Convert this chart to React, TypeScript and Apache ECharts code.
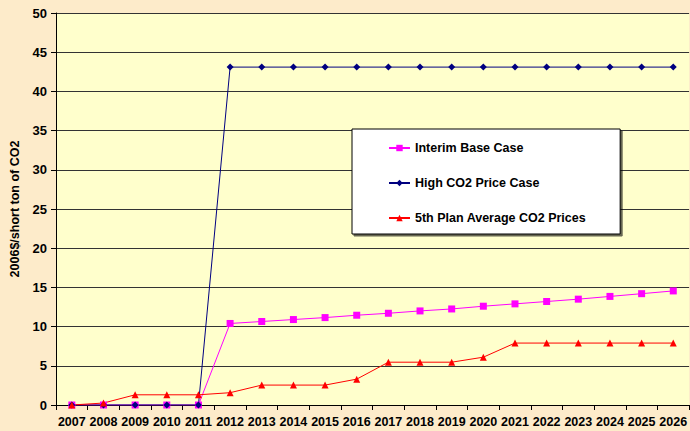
import React, { useEffect, useRef } from "react";
import * as echarts from "echarts";

const years = ["2007","2008","2009","2010","2011","2012","2013","2014","2015","2016","2017","2018","2019","2020","2021","2022","2023","2024","2025","2026"];
const interimBase = [0,0,0,0,0,10.4,10.65,10.9,11.15,11.45,11.7,12.0,12.25,12.6,12.9,13.2,13.5,13.85,14.2,14.55];
const highCO2 = [0,0,0,0,0,43.1,43.1,43.1,43.1,43.1,43.1,43.1,43.1,43.1,43.1,43.1,43.1,43.1,43.1,43.1];
const fifthPlan = [0,0.25,1.3,1.3,1.3,1.57,2.54,2.54,2.54,3.3,5.46,5.46,5.46,6.1,7.9,7.9,7.9,7.9,7.9,7.9];

const seriesNames = ["Interim Base Case", "High CO2 Price Case", "5th Plan Average CO2 Prices"];

export default function App() {
  const ref = useRef<HTMLDivElement>(null);
  useEffect(() => {
    document.body.style.margin = "0";
    const chart = echarts.init(ref.current!, null, { renderer: "svg" });
    const font = "Arial, 'Liberation Sans', sans-serif";
    chart.setOption({
      animation: false,
      backgroundColor: "#FDEBCA",
      textStyle: { fontFamily: font },
      grid: {
        left: 56,
        right: -6,
        top: 13,
        bottom: 26,
        show: true,
        backgroundColor: "#FFFFCC",
        borderWidth: 0,
      },
      legend: {
        orient: "vertical",
        left: 352,
        top: 129,
        data: seriesNames,
        backgroundColor: "#FFFFFF",
        borderColor: "#000000",
        borderWidth: 1,
        shadowColor: "rgba(0,0,0,0.6)",
        shadowOffsetX: 2,
        shadowOffsetY: 2,
        shadowBlur: 0,
        padding: [12, 34, 9, 36],
        itemGap: 21,
        itemWidth: 21,
        itemHeight: 8,
        textStyle: { fontFamily: font, fontWeight: "bold", fontSize: 12.5, lineHeight: 14, color: "#000" },
      },
      xAxis: {
        type: "category",
        data: years,
        boundaryGap: true,
        axisLine: { lineStyle: { color: "#000", width: 1 } },
        axisTick: { show: true, length: 5, inside: false, lineStyle: { color: "#000" } },
        axisLabel: { color: "#000", fontWeight: "bold", fontSize: 12.5, fontFamily: font, margin: 10, interval: 0 },
        splitLine: { show: false },
      },
      yAxis: {
        type: "value",
        min: 0,
        max: 50,
        interval: 5,
        name: "2006$/short ton of CO2",
        nameLocation: "middle",
        nameGap: 31,
        nameRotate: 90,
        nameTextStyle: { color: "#000", fontWeight: "bold", fontSize: 12.5, fontFamily: font },
        axisLine: { show: true, lineStyle: { color: "#000", width: 1 } },
        axisTick: { show: true, length: 5, lineStyle: { color: "#000" } },
        axisLabel: { color: "#000", fontWeight: "bold", fontSize: 13, fontFamily: font, margin: 9 },
        splitLine: { show: true, lineStyle: { color: "#333", width: 1 } },
      },
      series: [
        {
          name: seriesNames[0],
          type: "line",
          data: interimBase,
          symbol: "rect",
          symbolSize: 7,
          itemStyle: { color: "#FF00FF" },
          lineStyle: { color: "#FF00FF", width: 1 },
        },
        {
          name: seriesNames[1],
          type: "line",
          data: highCO2,
          symbol: "diamond",
          symbolSize: 7,
          itemStyle: { color: "#000080" },
          lineStyle: { color: "#000080", width: 1 },
        },
        {
          name: seriesNames[2],
          type: "line",
          data: fifthPlan,
          symbol: "triangle",
          symbolSize: 7,
          itemStyle: { color: "#FF0000" },
          lineStyle: { color: "#FF0000", width: 1 },
        },
      ],
    });
    return () => chart.dispose();
  }, []);
  return <div ref={ref} style={{ width: 690, height: 431 }} />;
}
